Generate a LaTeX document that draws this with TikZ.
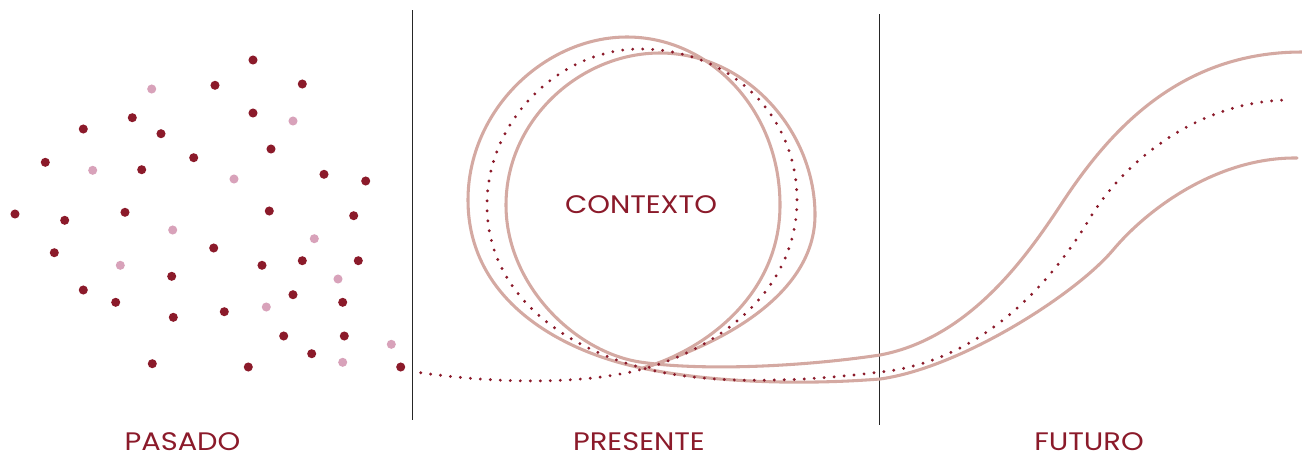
\documentclass[tikz,border=0pt]{standalone}
\usepackage{fontspec}
\setmainfont{Poppins}
\newfontfamily\labelfont[FakeStretch=1.14]{Poppins}
\definecolor{maroon}{RGB}{139,26,42}
\definecolor{pinkdot}{RGB}{216,162,186}
\definecolor{rose}{RGB}{212,169,162}
\tikzset{
  darkdot/.style={fill=maroon},
  lightdot/.style={fill=pinkdot},
  ribbon/.style={draw=rose,line width=2.3pt,line cap=round},
  dotline/.style={draw=maroon,line width=2.4pt,line cap=round,dash pattern=on 0pt off 7.5pt},
  divider/.style={draw=black!85,line width=0.75pt},
  label/.style={text=maroon,font=\labelfont\fontsize{19}{21}\selectfont,anchor=base,inner sep=0pt}
}
\begin{document}
\begin{tikzpicture}[x=0.75pt,y=-0.75pt]
\useasboundingbox (0,0) rectangle (1302,455);
% dots
\foreach \x/\y in {253/60,215/85.3,302.3/84,253/113,132.3/117.7,83.3/129,161/133.7,271/149,193.7/157.7,45.3/162.3,141.7/169.7,324/174.3,365.7/181,15/214,64.7/220.3,125/212.3,269.3/211,353.7/215.7,54.3/252.7,213.7/248,262/265.3,302.3/260.7,358.3/260.7,171.7/276.3,83.3/290,115.7/302.3,293/294.7,342.7/302.3,173.3/317.3,224.3/311.7,283.7/336,344.3/336,311.7/353.7,152.3/363.7,248.3/367,400.7/367}
  \fill[darkdot] (\x,\y) circle (3.4pt);
\foreach \x/\y in {151.7/89,293/121,92.7/170.3,234/179,172.7/230,314.3/238.7,120.3/265.3,338/279,266.3/307,391.3/344.3,342.7/362.3}
  \fill[lightdot] (\x,\y) circle (3.4pt);
% dividers
\coordinate (d1t) at (412.3,10);
\coordinate (d1b) at (412.3,420);
\coordinate (d2t) at (879.3,14);
\coordinate (d2b) at (879.3,425);
\draw[divider] (d1t) -- (d1b);
\draw[divider] (d2t) -- (d2b);
% ribbon edge L
\draw[ribbon] (643,368) .. controls (705,350) and (780,295) .. (780,205)
  .. controls (780,110) and (710,37) .. (627,37)
  .. controls (545,37) and (468,110) .. (468,200)
  .. controls (468,300) and (560,350) .. (637,367)
  .. controls (700,381) and (790,386) .. (880,379)
  .. controls (960,368) and (1075,295) .. (1113,250)
  .. controls (1150,206) and (1220,157) .. (1297,158);
% ribbon edge R
\draw[ribbon] (643,368) .. controls (720,345) and (815,295) .. (815,215)
  .. controls (815,130) and (745,53) .. (660,53)
  .. controls (580,53) and (506,120) .. (506,205)
  .. controls (506,285) and (575,352) .. (640,362)
  .. controls (700,371) and (800,367) .. (880,355)
  .. controls (970,338) and (1027,256) .. (1062,203)
  .. controls (1110,130) and (1180,52) .. (1302,52);
% dotted center line
\draw[dotline] (420.7,372.7) .. controls (500,384) and (590,385) .. (650,367)
  .. controls (720,346) and (797,290) .. (797,200)
  .. controls (797,115) and (730,49) .. (640,49)
  .. controls (560,49) and (487,120) .. (487,205)
  .. controls (487,300) and (575,355) .. (660,372)
  .. controls (720,384) and (800,382) .. (880,372)
  .. controls (980,362) and (1050,285) .. (1090,218)
  .. controls (1125,160) and (1200,100) .. (1290.7,100);
% labels
\node[label] (contexto) at (641,213) {CONTEXTO};
\node[label] (pasado) at (182.5,450) {PASADO};
\node[label] (presente) at (639,450) {PRESENTE};
\node[label] (futuro) at (1089,450) {FUTURO};
\end{tikzpicture}
\end{document}
